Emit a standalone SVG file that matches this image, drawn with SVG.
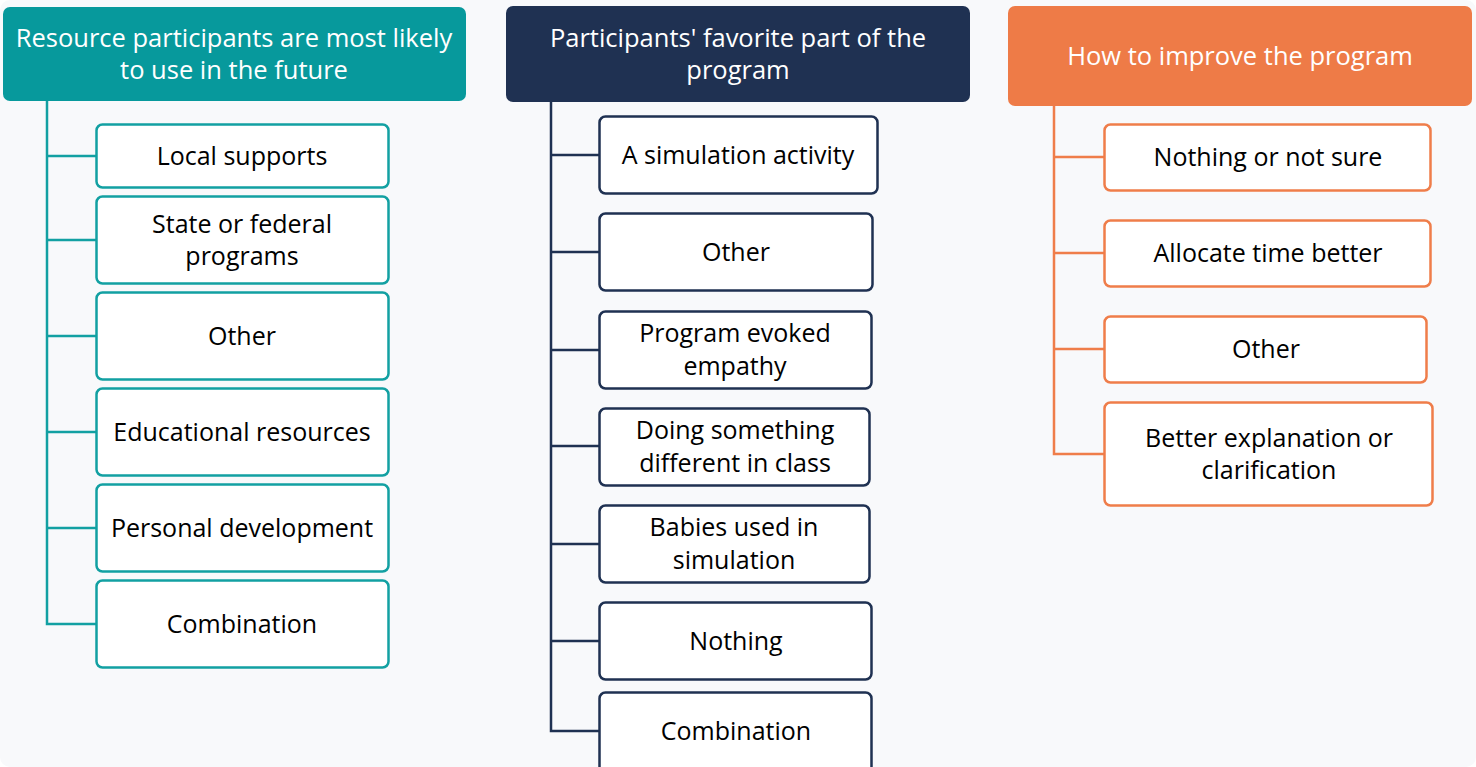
<svg xmlns="http://www.w3.org/2000/svg" width="1476" height="767" viewBox="0 0 1476 767">
<style>
.bg{fill:#f8f9fb}
.hd{stroke:none}
.hd-t{fill:#07999c}.hd-n{fill:#1f3152}.hd-o{fill:#ee7b47}
.ht{font-family:"Open Sans","Noto Sans",sans-serif;font-size:25.5px;fill:#ffffff;text-anchor:middle}
.bx{fill:#ffffff;stroke-width:2.5}
.bt{stroke:#12a0a2}.bn{stroke:#1f3152}.bo{stroke:#ef7d4a}
.tx{font-family:"Open Sans","Noto Sans",sans-serif;font-size:25px;fill:#000000;text-anchor:middle}
.ln{fill:none;stroke-width:2.5}
.lt{stroke:#12a0a2}.lnn{stroke:#1f3152}.lo{stroke:#ef7d4a}
</style>
<rect class="bg" x="0" y="0" width="1476" height="767" rx="10"/>
<g id="connectors">
<path class="ln lt" d="M47,101 V624 H97 M47,156 H97 M47,240 H97 M47,336 H97 M47,432 H97 M47,528 H97"/>
<path class="ln lnn" d="M551,102 V731 H600 M551,155 H600 M551,252 H600 M551,350 H600 M551,446 H600 M551,544 H600 M551,641 H600"/>
<path class="ln lo" d="M1054,106 V454 H1105 M1054,157 H1105 M1054,253 H1105 M1054,349 H1105"/>
</g>
<g id="h1"><rect class="hd hd-t" x="3" y="7" width="463" height="94" rx="7"/>
<text class="ht" x="234" y="47">Resource participants are most likely</text>
<text class="ht" x="234" y="79">to use in the future</text></g>
<g id="h2"><rect class="hd hd-n" x="506" y="6" width="464" height="96" rx="7"/>
<text class="ht" x="738" y="47">Participants' favorite part of the</text>
<text class="ht" x="738" y="79">program</text></g>
<g id="h3"><rect class="hd hd-o" x="1008" y="6" width="464" height="100" rx="7"/>
<text class="ht" x="1240" y="65">How to improve the program</text></g>

<g id="a1"><rect class="bx bt" x="96.5" y="124.5" width="292" height="63" rx="6"/><text class="tx" x="242" y="165">Local supports</text></g>
<g id="a2"><rect class="bx bt" x="96.5" y="196.5" width="292" height="87" rx="6"/><text class="tx" x="242" y="233">State or federal</text><text class="tx" x="242" y="265">programs</text></g>
<g id="a3"><rect class="bx bt" x="96.5" y="292.5" width="292" height="87" rx="6"/><text class="tx" x="242" y="345">Other</text></g>
<g id="a4"><rect class="bx bt" x="96.5" y="388.5" width="292" height="87" rx="6"/><text class="tx" x="242" y="441">Educational resources</text></g>
<g id="a5"><rect class="bx bt" x="96.5" y="484.5" width="292" height="87" rx="6"/><text class="tx" x="242" y="537">Personal development</text></g>
<g id="a6"><rect class="bx bt" x="96.5" y="580.5" width="292" height="87" rx="6"/><text class="tx" x="242" y="633">Combination</text></g>

<g id="b1"><rect class="bx bn" x="599.5" y="116.5" width="278" height="77" rx="6"/><text class="tx" x="738" y="164">A simulation activity</text></g>
<g id="b2"><rect class="bx bn" x="599.5" y="213.5" width="273" height="77" rx="6"/><text class="tx" x="736" y="261">Other</text></g>
<g id="b3"><rect class="bx bn" x="599.5" y="311.5" width="272" height="77" rx="6"/><text class="tx" x="735" y="342">Program evoked</text><text class="tx" x="735" y="375">empathy</text></g>
<g id="b4"><rect class="bx bn" x="599.5" y="408.5" width="270" height="77" rx="6"/><text class="tx" x="735" y="439">Doing something</text><text class="tx" x="735" y="472">different in class</text></g>
<g id="b5"><rect class="bx bn" x="599.5" y="505.5" width="270" height="77" rx="6"/><text class="tx" x="734" y="536">Babies used in</text><text class="tx" x="734" y="569">simulation</text></g>
<g id="b6"><rect class="bx bn" x="599.5" y="602.5" width="272" height="77" rx="6"/><text class="tx" x="736" y="650">Nothing</text></g>
<g id="b7"><rect class="bx bn" x="599.5" y="692.5" width="272" height="80" rx="6"/><text class="tx" x="736" y="740">Combination</text></g>

<g id="c1"><rect class="bx bo" x="1104.5" y="124.5" width="326" height="66" rx="6"/><text class="tx" x="1268" y="166">Nothing or not sure</text></g>
<g id="c2"><rect class="bx bo" x="1104.5" y="220.5" width="326" height="66" rx="6"/><text class="tx" x="1268" y="262">Allocate time better</text></g>
<g id="c3"><rect class="bx bo" x="1104.5" y="316.5" width="322" height="66" rx="6"/><text class="tx" x="1266" y="358">Other</text></g>
<g id="c4"><rect class="bx bo" x="1104.5" y="402.5" width="328" height="103" rx="6"/><text class="tx" x="1269" y="447">Better explanation or</text><text class="tx" x="1269" y="479">clarification</text></g>
</svg>
